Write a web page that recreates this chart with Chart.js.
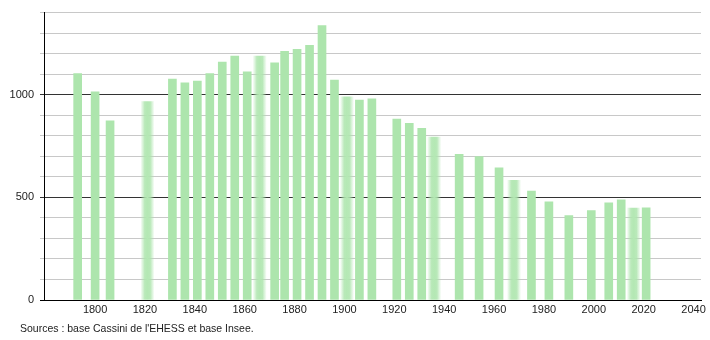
<!DOCTYPE html>
<html>
<head>
<meta charset="utf-8">
<script src="https://cdn.jsdelivr.net/npm/chart.js@4.4.1/dist/chart.umd.min.js"></script>
<style>
  html, body { margin: 0; padding: 0; background: #fff; }
  #wrap { position: relative; width: 710px; height: 340px; }
  #source {
    position: absolute; left: 20px; top: 322px;
    font: 10.5px "Liberation Sans", Arial, sans-serif; color: #222;
  }
</style>
</head>
<body>
<div id="wrap">
  <canvas id="popChart" width="710" height="340"></canvas>
  <div id="source">Sources : base Cassini de l'EHESS et base Insee.</div>
</div>
<script>
// Recensements (années) et population
const years = [1793, 1800, 1806, 1821, 1831, 1836, 1841, 1846, 1851, 1856, 1861, 1866, 1872, 1876,
  1881, 1886, 1891, 1896, 1901, 1906, 1911, 1921, 1926, 1931, 1936, 1946, 1954, 1962, 1968,
  1975, 1982, 1990, 1999, 2006, 2011, 2016, 2021];
const population = [1103, 1014, 873, 966, 1076, 1058, 1066, 1103, 1159, 1188, 1111, 1188, 1155, 1211,
  1221, 1240, 1337, 1071, 990, 974, 980, 881, 860, 836, 794, 710, 699, 644, 583,
  531, 478, 411, 435, 473, 488, 448, 449];
// barres floues sur l'image d'origine
const softYears = [1821, 1866, 1901, 1936, 1968, 2016];
const xTicks = [1800, 1820, 1840, 1860, 1880, 1900, 1920, 1940, 1960, 1980, 2000, 2020, 2040];
const yTicks = [0, 100, 200, 300, 400, 500, 600, 700, 800, 900, 1000, 1100, 1200, 1300, 1400];
const yLabels = [0, 500, 1000];

const green = '#ade5ad';

const normalPts = [];
const softPts = [];
years.forEach((yr, i) => {
  const p = { x: yr, y: population[i] };
  if (softYears.includes(yr)) softPts.push(p); else normalPts.push(p);
});

function softFill(c) {
  if (!c.raw) return green;
  const px = c.chart.scales.x.getPixelForValue(c.raw.x);
  if (!isFinite(px)) return green;
  const g = c.chart.ctx.createLinearGradient(px - 7, 0, px + 7, 0);
  g.addColorStop(0, 'rgba(173,229,173,0)');
  g.addColorStop(0.3, 'rgba(173,229,173,0.85)');
  g.addColorStop(0.5, 'rgba(180,232,180,1)');
  g.addColorStop(0.7, 'rgba(173,229,173,0.85)');
  g.addColorStop(1, 'rgba(173,229,173,0)');
  return g;
}

const ctx = document.getElementById('popChart').getContext('2d');
const chart = new Chart(ctx, {
  type: 'bar',
  data: {
    datasets: [
      { data: normalPts, backgroundColor: green, barThickness: 8, grouped: false },
      { data: softPts, backgroundColor: softFill, barThickness: 14, grouped: false }
    ]
  },
  options: {
    responsive: false,
    animation: false,
    layout: { padding: { top: 4, right: 9, left: 0, bottom: 0 } },
    plugins: { legend: { display: false }, tooltip: { enabled: false } },
    scales: {
      x: {
        type: 'linear',
        offset: false,
        min: 1779.5,
        max: 2043,
        afterBuildTicks: s => { s.ticks = xTicks.map(v => ({ value: v })); },
        afterFit: s => { s.height = 40; },
        grid: { display: false, drawTicks: false, offset: false },
        border: { display: true, color: '#000', width: 1 },
        ticks: {
          padding: 3,
          color: '#222',
          font: { family: '"Liberation Sans", Arial, sans-serif', size: 11 },
          maxRotation: 0,
          autoSkip: false,
          callback: v => String(v)
        }
      },
      y: {
        min: 0,
        max: 1400,
        afterBuildTicks: s => { s.ticks = yTicks.map(v => ({ value: v })); },
        afterFit: s => { s.width = 44; },
        grid: {
          color: c => (c.tick && c.tick.value === 0) ? '#000' : (c.tick && c.tick.value % 500 === 0 ? '#333' : '#c8c8c8'),
          tickLength: 4,
          drawTicks: true
        },
        border: { display: true, color: '#000', width: 1 },
        ticks: {
          padding: 6,
          color: '#222',
          font: { family: '"Liberation Sans", Arial, sans-serif', size: 11 },
          autoSkip: false,
          callback: v => yLabels.includes(v) ? String(v) : ''
        }
      }
    }
  }
});
chart.update();
</script>
</body>
</html>
